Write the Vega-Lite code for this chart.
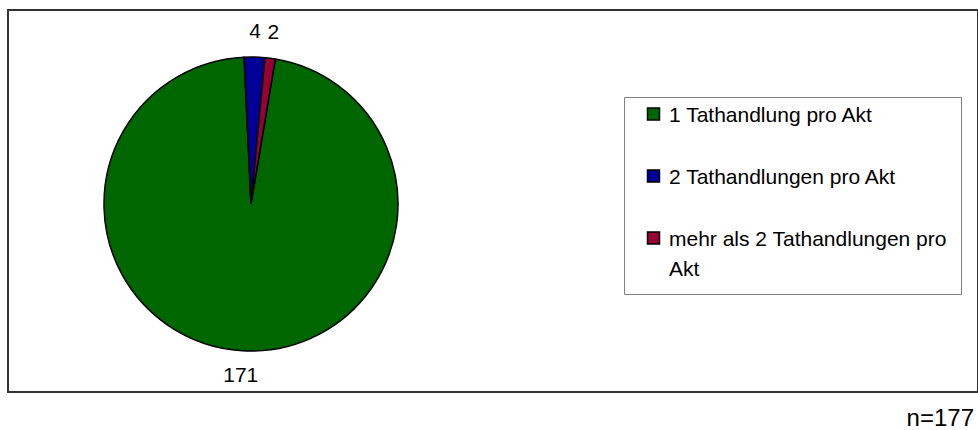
{
  "$schema": "https://vega.github.io/schema/vega-lite/v6.json",
  "width": 970,
  "height": 382,
  "autosize": {"type": "none"},
  "padding": {"left": 8, "top": 10, "right": 0, "bottom": 38},
  "background": "white",
  "config": {
    "view": {"stroke": null},
    "font": "Liberation Sans"
  },
  "title": {
    "text": "n=177",
    "orient": "bottom",
    "anchor": "end",
    "fontSize": 24,
    "fontWeight": "normal",
    "color": "black",
    "dx": -5,
    "offset": 14,
    "font": "Liberation Sans"
  },
  "data": {
    "values": [
      {"kategorie": "1 Tathandlung pro Akt", "anzahl": 171, "ord": 1},
      {"kategorie": "2 Tathandlungen pro Akt", "anzahl": 4, "ord": 2},
      {"kategorie": "mehr als 2 Tathandlungen pro Akt", "anzahl": 2, "ord": 3}
    ]
  },
  "layer": [
    {
      "data": {"values": [{"rahmen": 1}]},
      "mark": {"type": "rect", "fill": null, "fillOpacity": 0, "stroke": "#333333", "strokeWidth": 2}
    },
    {
      "mark": {"type": "arc", "outerRadius": 147, "stroke": "black", "strokeWidth": 1.5, "x": 243, "y": 194},
      "encoding": {
        "theta": {
          "field": "anzahl",
          "type": "quantitative",
          "stack": true,
          "scale": {"range": [0.166, 6.4492]}
        },
        "order": {"field": "ord", "type": "quantitative"},
        "color": {
          "field": "kategorie",
          "type": "nominal",
          "sort": null,
          "scale": {
            "domain": ["1 Tathandlung pro Akt", "2 Tathandlungen pro Akt", "mehr als 2 Tathandlungen pro Akt"],
            "range": ["#006600", "#000099", "#990033"]
          },
          "legend": {
            "title": null,
            "orient": "none",
            "legendX": 616,
            "legendY": 87,
            "padding": 14,
            "symbolOffset": 5,
            "strokeColor": "#808080",
            "symbolType": "M-1,-2.25H1V-0.25H-1Z",
            "symbolSize": 144,
            "symbolStrokeColor": "black",
            "symbolStrokeWidth": 1.5,
            "symbolOpacity": 1,
            "labelFont": "Liberation Sans",
            "labelFontSize": 21,
            "labelColor": "black",
            "labelBaseline": "alphabetic",
            "labelOffset": 5,
            "labelLimit": 400,
            "rowPadding": 40,
            "labelExpr": "datum.label == 'mehr als 2 Tathandlungen pro Akt' ? ['mehr als 2 Tathandlungen pro\u00a0\u00a0', 'Akt'] : datum.label",
            "encode": {"labels": {"update": {"lineHeight": {"value": 30}}}}
          }
        }
      }
    },
    {
      "mark": {"type": "text", "radius": 172, "fontSize": 21, "x": 243, "y": 194, "font": "Liberation Sans", "color": "black"},
      "encoding": {
        "theta": {"field": "anzahl", "type": "quantitative", "stack": true},
        "order": {"field": "ord", "type": "quantitative"},
        "text": {"field": "anzahl", "type": "quantitative"}
      }
    }
  ]
}
